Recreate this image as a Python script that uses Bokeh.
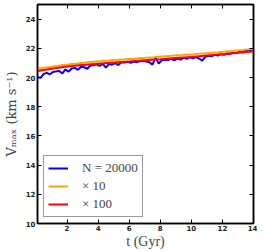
from bokeh.plotting import figure
from bokeh.models import LinearAxis, FixedTicker, Range1d, Legend, LegendItem, CustomLabelingPolicy
from bokeh.embed import file_html
from bokeh.resources import INLINE

# time grid (Gyr) for the noisy runs
t = [0.1, 0.3, 0.5, 0.7, 0.9, 1.1, 1.3, 1.5, 1.7, 1.9,
     2.1, 2.3, 2.5, 2.7, 2.9, 3.1, 3.3, 3.5, 3.7, 3.9,
     4.1, 4.3, 4.5, 4.7, 4.9, 5.1, 5.3, 5.5, 5.7, 5.9,
     6.1, 6.3, 6.5, 6.7, 6.9, 7.1, 7.3, 7.5, 7.7, 7.9,
     8.1, 8.3, 8.5, 8.7, 8.9, 9.1, 9.3, 9.5, 9.7, 9.9,
     10.1, 10.3, 10.5, 10.7, 10.9, 11.1, 11.3, 11.5, 11.7, 11.9,
     12.1, 12.3, 12.5, 12.7, 12.9, 13.1, 13.3, 13.5, 13.7, 13.9]

v_n20000 = [20.02, 19.98, 20.25, 20.32, 20.22, 20.38, 20.42, 20.45, 20.28, 20.55,
            20.40, 20.62, 20.66, 20.52, 20.74, 20.70, 20.60, 20.82, 20.84, 20.90,
            20.80, 20.93, 20.68, 20.92, 20.88, 20.98, 20.85, 21.05, 21.02, 21.08,
            21.00, 21.10, 21.05, 21.12, 21.15, 21.10, 21.05, 20.88, 21.38, 20.95,
            21.18, 21.22, 21.20, 21.28, 21.18, 21.30, 21.22, 21.35, 21.28, 21.38,
            21.32, 21.40, 21.30, 21.15, 21.42, 21.48, 21.45, 21.55, 21.50, 21.60,
            21.55, 21.65, 21.62, 21.70, 21.66, 21.78, 21.72, 21.85, 21.80, 21.86]

v_x10 = [20.58, 20.63, 20.66, 20.70, 20.72, 20.76, 20.78, 20.80, 20.85, 20.87,
         20.89, 20.93, 20.94, 20.96, 21.00, 21.01, 21.04, 21.06, 21.07, 21.11,
         21.10, 21.14, 21.15, 21.16, 21.20, 21.19, 21.22, 21.24, 21.23, 21.27,
         21.28, 21.27, 21.31, 21.33, 21.32, 21.36, 21.37, 21.36, 21.41, 21.42,
         21.43, 21.46, 21.45, 21.49, 21.50, 21.52, 21.51, 21.55, 21.56, 21.58,
         21.57, 21.61, 21.62, 21.65, 21.64, 21.68, 21.70, 21.72, 21.71, 21.75,
         21.77, 21.79, 21.80, 21.82, 21.85, 21.86, 21.88, 21.91, 21.93, 21.96]

t_x100 = [0.1, 0.5, 1, 2, 3, 4, 5, 6, 7, 8, 9, 10, 11, 12, 13, 14]
v_x100 = [20.45, 20.52, 20.60, 20.75, 20.86, 20.95, 21.03, 21.10, 21.18,
          21.25, 21.33, 21.40, 21.50, 21.60, 21.70, 21.80]

x_ticks = [2, 4, 6, 8, 10, 12, 14]
y_ticks = [10, 12, 14, 16, 18, 20, 22, 24]

labels = ["N = 20000", "× 10", "× 100"]

p = figure(width=257, height=251, output_backend="svg", toolbar_location=None,
           x_range=Range1d(0.1, 14), y_range=Range1d(10, 25),
           min_border_left=0, min_border_right=0, min_border_top=2, min_border_bottom=0)

p.xgrid.visible = False
p.ygrid.visible = False
p.outline_line_color = "black"
p.outline_line_width = 1.5
p.background_fill_color = "white"
p.border_fill_color = "white"

r1 = p.line(t, v_n20000, line_color="#0000ff", line_width=2)
r2 = p.line(t, v_x10, line_color="#ffa500", line_width=2)
r3 = p.line(t_x100, v_x100, line_color="#ff0000", line_width=2)

def style(ax):
    ax.major_tick_in = 4
    ax.major_tick_out = 0
    ax.minor_tick_in = 0
    ax.minor_tick_out = 0
    ax.axis_line_color = "black"
    ax.axis_line_width = 1.5
    ax.major_tick_line_width = 1
    ax.major_label_text_font = "DejaVu Sans"
    ax.major_label_text_font_size = "7px"
    ax.major_label_text_font_style = "bold"
    ax.major_label_text_color = "#222222"
    ax.major_label_standoff = 2

xa = p.xaxis[0]
xa.ticker = FixedTicker(ticks=x_ticks)
style(xa)
xa.major_label_standoff = 1
xa.axis_label = "t (Gyr)"
xa.axis_label_text_font = "Liberation Serif"
xa.axis_label_text_font_size = "14px"
xa.axis_label_text_font_style = "normal"
xa.axis_label_standoff = 0

ya = p.yaxis[0]
ya.ticker = FixedTicker(ticks=y_ticks)
style(ya)
ya.axis_label = "Vₘₐₓ (km s⁻¹)"
ya.axis_label_text_font = "DejaVu Serif"
ya.axis_label_text_font_size = "13px"
ya.axis_label_text_font_style = "normal"
ya.axis_label_standoff = 4

top = LinearAxis(ticker=FixedTicker(ticks=x_ticks))
style(top)
top.major_label_policy = CustomLabelingPolicy(code="return []")
top.major_label_text_font_size = "1px"
top.major_label_standoff = 0
top.axis_label_standoff = 0
p.add_layout(top, "above")

right = LinearAxis(ticker=FixedTicker(ticks=y_ticks))
style(right)
right.major_label_policy = CustomLabelingPolicy(code="return []")
right.major_label_text_font_size = "1px"
right.major_label_standoff = 0
right.axis_label_standoff = 0
p.add_layout(right, "right")

legend = Legend(items=[LegendItem(label=labels[0], renderers=[r1]),
                       LegendItem(label=labels[1], renderers=[r2]),
                       LegendItem(label=labels[2], renderers=[r3])],
                location="bottom_left")
legend.label_text_font = "Liberation Serif"
legend.label_text_font_size = "13px"
legend.border_line_color = "#333333"
legend.border_line_width = 1
legend.background_fill_color = "white"
legend.background_fill_alpha = 1
legend.glyph_width = 20
legend.glyph_height = 14
legend.spacing = 2
legend.padding = 4
legend.margin = 6
legend.label_standoff = 14
p.add_layout(legend)

open("out.html", "w").write(file_html(p, INLINE))
